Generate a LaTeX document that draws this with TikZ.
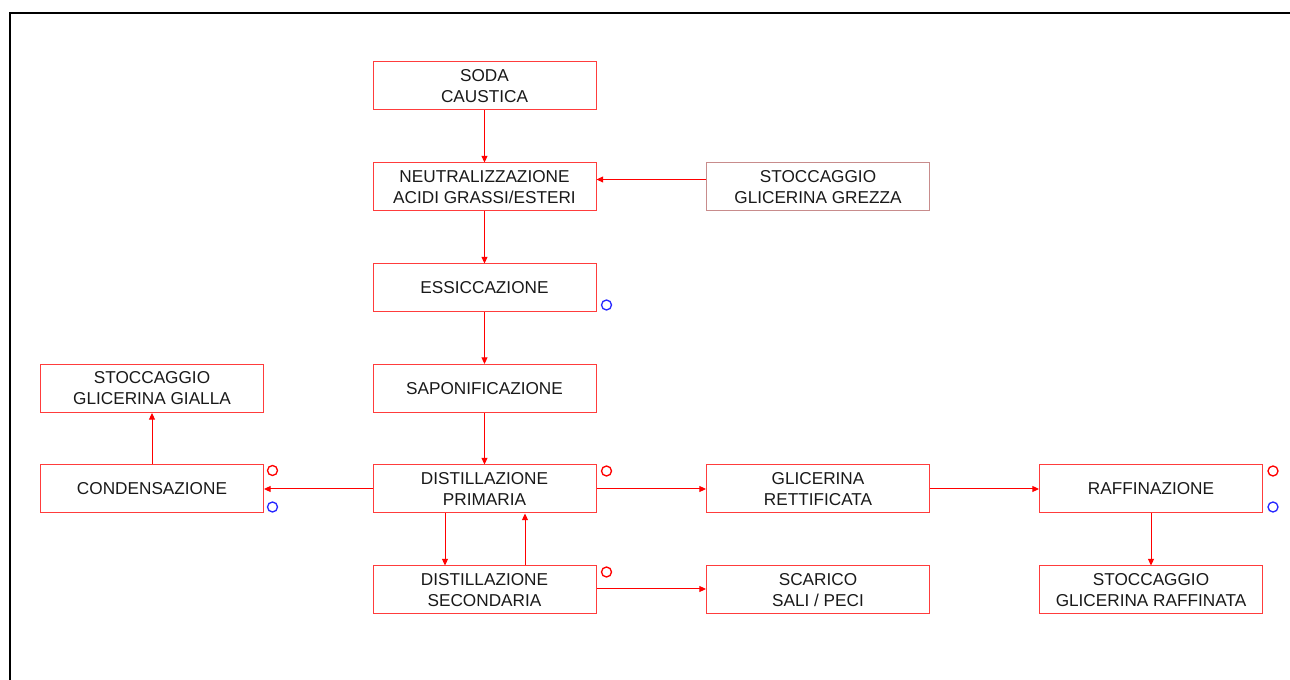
\documentclass[tikz,border=0pt]{standalone}
\usepackage{fontspec}
\setmainfont{Liberation Sans}
\usetikzlibrary{arrows.meta}
\definecolor{boxred}{RGB}{255,60,60}
\definecolor{greyred}{RGB}{200,140,140}
\definecolor{circblue}{RGB}{40,40,255}
\tikzset{
  procbox/.style={draw=boxred, line width=0.75pt, rectangle, minimum width=167.25pt, minimum height=36pt, inner sep=0pt, align=center, font=\fontsize{12.9pt}{15.75pt}\selectfont, text=black!90},
  flow/.style={draw=red, line width=0.75pt, -{Triangle[length=5pt,width=4.5pt]}},
  redring/.style={draw=red, line width=1pt},
  bluering/.style={draw=circblue, line width=1pt}
}
\begin{document}
\begin{tikzpicture}[x=0.75pt, y=-0.75pt]
\useasboundingbox (0,0) rectangle (1290,680);
\draw[line width=2.2pt, black] (10,13) rectangle (1310,700);

\node[procbox] (soda) at (484.5,86) {SODA\\CAUSTICA};
\node[procbox] (neut) at (484.5,187) {NEUTRALIZZAZIONE\\ACIDI GRASSI/ESTERI};
\node[procbox, draw=greyred] (grezza) at (818,187) {STOCCAGGIO\\GLICERINA GREZZA};
\node[procbox] (ess) at (484.5,288) {ESSICCAZIONE};
\node[procbox] (sapo) at (484.5,388.5) {SAPONIFICAZIONE};
\node[procbox] (gialla) at (152,388.5) {STOCCAGGIO\\GLICERINA GIALLA};
\node[procbox] (cond) at (152,489) {CONDENSAZIONE};
\node[procbox] (prim) at (484.5,489) {DISTILLAZIONE\\PRIMARIA};
\node[procbox] (rett) at (818,489) {GLICERINA\\RETTIFICATA};
\node[procbox] (raff) at (1151,489) {RAFFINAZIONE};
\node[procbox] (sec) at (484.5,590) {DISTILLAZIONE\\SECONDARIA};
\node[procbox] (scar) at (818,590) {SCARICO\\SALI / PECI};
\node[procbox] (sraff) at (1151,590) {STOCCAGGIO\\GLICERINA RAFFINATA};

\coordinate (gz) at (0,179.5);
\coordinate (dl) at (445,0);
\coordinate (ul) at (525,0);

\draw[flow] (soda) -- (neut);
\draw[flow] (grezza.west |- gz) -- (neut.east |- gz);
\draw[flow] (neut) -- (ess);
\draw[flow] (ess) -- (sapo);
\draw[flow] (sapo) -- (prim);
\draw[flow] (prim) -- (cond);
\draw[flow] (cond) -- (gialla);
\draw[flow] (prim) -- (rett);
\draw[flow] (rett) -- (raff);
\draw[flow] (raff) -- (sraff);
\draw[flow] (prim.south -| dl) -- (sec.north -| dl);
\draw[flow] (sec.north -| ul) -- (prim.south -| ul);
\draw[flow] (sec.east |- 0,589) -- (scar.west |- 0,589);

\draw[redring] (272.5,470.5) circle[radius=3.75pt];
\draw[bluering] (272.5,507) circle[radius=3.75pt];
\draw[bluering] (606.5,305) circle[radius=3.75pt];
\draw[redring] (606.5,471) circle[radius=3.75pt];
\draw[redring] (606.5,572) circle[radius=3.75pt];
\draw[redring] (1273,471) circle[radius=3.75pt];
\draw[bluering] (1273,507) circle[radius=3.75pt];
\end{tikzpicture}
\end{document}
